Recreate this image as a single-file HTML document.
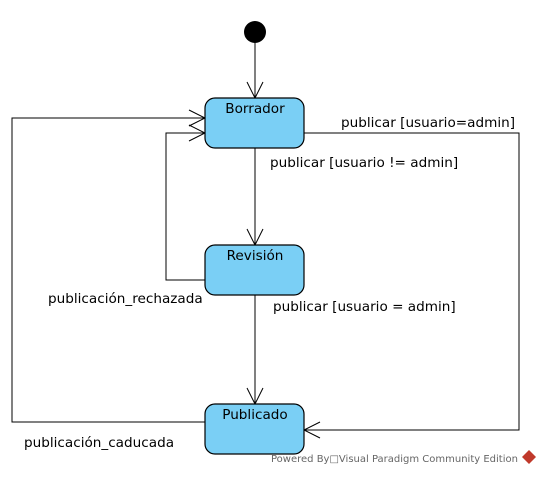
<!DOCTYPE html>
<html><head><style>body{margin:0;background:#fff}</style></head><body>
<svg width="543" height="475" xmlns="http://www.w3.org/2000/svg" font-family="DejaVu Sans, sans-serif">
<rect width="543" height="475" fill="#fff"/>
<circle cx="255" cy="32" r="11" fill="#000"/>
<g stroke="#000" stroke-width="1" fill="none">
<line x1="255" y1="43" x2="255" y2="98"/>
<polyline points="247,82 255,98 263,82"/>
<line x1="255" y1="148" x2="255" y2="245"/>
<polyline points="247,229 255,245 263,229"/>
<line x1="255" y1="295" x2="255" y2="404"/>
<polyline points="247,388 255,404 263,388"/>
<polyline points="304,133 519,133 519,430 304,430"/>
<polyline points="320,422 304,430 320,438"/>
<polyline points="205,280 166,280 166,133 205,133"/>
<polyline points="189,125 205,133 189,141"/>
<polyline points="205,422 12,422 12,118 205,118"/>
<polyline points="189,110 205,118 189,126"/>
</g>
<g fill="#7acff5" stroke="#000" stroke-width="1.2">
<rect x="205" y="98" width="99" height="50" rx="10"/>
<rect x="205" y="245" width="99" height="50" rx="10"/>
<rect x="205" y="404" width="99" height="50" rx="10"/>
</g>
<g font-size="13.6" fill="#000" text-anchor="middle">
<text x="255" y="113">Borrador</text>
<text x="255" y="260">Revisión</text>
<text x="255" y="419">Publicado</text>
</g>
<g font-size="13.6" fill="#000">
<text x="341" y="127">publicar [usuario=admin]</text>
<text x="270" y="167">publicar [usuario != admin]</text>
<text x="48" y="303">publicación_rechazada</text>
<text x="273" y="311">publicar [usuario = admin]</text>
<text x="24" y="447">publicación_caducada</text>
</g>
<text x="271" y="462" font-size="10" fill="#666">Powered By□Visual Paradigm Community Edition</text>
<path d="M529,450 l7,7 -7,7 -7,-7z" fill="#c0392b"/>
</svg>
</body></html>
